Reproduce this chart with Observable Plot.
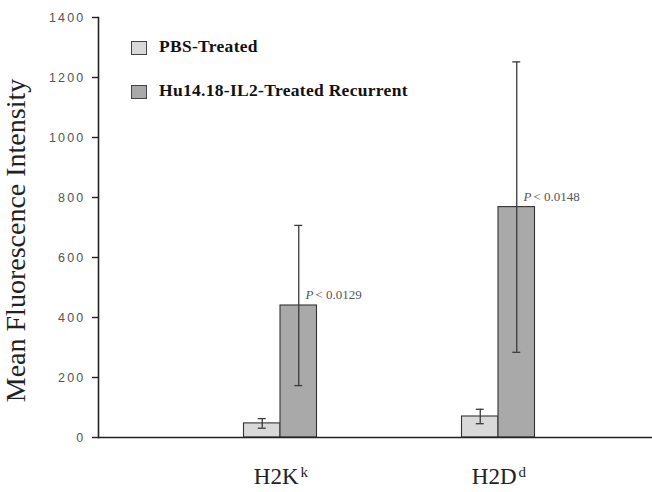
<!DOCTYPE html>
<html>
<head>
<meta charset="utf-8">
<script src="https://cdn.jsdelivr.net/npm/d3@7"></script>
<script src="https://cdn.jsdelivr.net/npm/@observablehq/plot@0.6"></script>
<style>
  html, body { margin: 0; padding: 0; background: #fff; }
  #wrap { position: relative; width: 652px; height: 492px; }
  #chart svg { display: block; }
  #chart [aria-label="y-axis tick label"] text { letter-spacing: 2.2px; }
  #legend { position: absolute; left: 131px; top: 40px; font-family: "Liberation Serif", "Times New Roman", serif; font-weight: bold; font-size: 17.5px; color: #111; }
  .row { position: relative; height: 44px; }
  .sw { position: absolute; left: 0; top: 1px; width: 14px; height: 12px; border: 1px solid #444; }
  .lab { position: absolute; left: 28px; top: -4px; white-space: nowrap; letter-spacing: 0.3px; }
</style>
</head>
<body>
<div id="wrap">
  <div id="chart"></div>
  <div id="legend"></div>
</div>
<script>
// ---- data ----
const categories = ["H2Kk", "H2Dd"];
const catMain = ["H2K", "H2D"];
const catSup = ["k", "d"];
const seriesNames = ["PBS-Treated", "Hu14.18-IL2-Treated Recurrent"];
const seriesColors = ["#d9d9d9", "#a9a9a9"];
const pbsMean = [47, 70];
const pbsErr = [16, 24];
const treatedMean = [440, 768];
const treatedErr = [267, 484];
const pLabels = ["< 0.0129", "< 0.0148"];
const yTicks = [0, 200, 400, 600, 800, 1000, 1200, 1400];

// ---- tables built from arrays ----
const pbs = categories.map((c, i) => ({cat: c, value: pbsMean[i], lo: pbsMean[i] - pbsErr[i], hi: pbsMean[i] + pbsErr[i]}));
const treated = categories.map((c, i) => ({cat: c, value: treatedMean[i], lo: treatedMean[i] - treatedErr[i], hi: treatedMean[i] + treatedErr[i], p: pLabels[i]}));
const labels = categories.map((c, i) => ({cat: c, main: catMain[i], sup: catSup[i]}));

const BW = 218;          // band width in px (range below)
const barW = 36.5;
const capW = 8;
const pbsIn = {insetLeft: BW / 2 - barW, insetRight: BW / 2};
const trIn = {insetLeft: BW / 2, insetRight: BW / 2 - barW};
const pbsCap = {insetLeft: BW / 2 - barW / 2 - capW / 2, insetRight: BW / 2 + barW / 2 - capW / 2};
const trCap = {insetLeft: BW / 2 + barW / 2 - capW / 2, insetRight: BW / 2 - barW / 2 - capW / 2};
const errStyle = {stroke: "#3a3a3a", strokeWidth: 1.3};
const serif = "Liberation Serif, Times New Roman, serif";

const chart = Plot.plot({
  width: 652,
  height: 492,
  marginTop: 17,
  marginBottom: 55,
  marginLeft: 98,
  marginRight: 0,
  style: {fontFamily: "Liberation Sans, Arial, sans-serif", background: "#fff"},
  x: {type: "band", domain: categories, range: [171, 171 + 2 * BW], padding: 0, axis: null},
  y: {domain: [0, 1400], axis: null},
  marks: [
    Plot.axisY({ticks: yTicks, tickSize: 6, tickPadding: 7, stroke: "#222", strokeWidth: 1.4, fill: "#555", fontSize: 12.5, label: null, tickFormat: d => String(d)}),
    Plot.frame({anchor: "left", stroke: "#222", strokeWidth: 1.6}),
    Plot.barY(pbs, {x: "cat", y: "value", fill: seriesColors[0], stroke: "#333", strokeWidth: 1.1, ...pbsIn}),
    Plot.barY(treated, {x: "cat", y: "value", fill: seriesColors[1], stroke: "#333", strokeWidth: 1.1, ...trIn}),
    Plot.ruleX(pbs, {x: "cat", y1: "lo", y2: "hi", dx: -barW / 2, ...errStyle}),
    Plot.tickY(pbs, {x: "cat", y: "lo", ...pbsCap, ...errStyle}),
    Plot.tickY(pbs, {x: "cat", y: "hi", ...pbsCap, ...errStyle}),
    Plot.ruleX(treated, {x: "cat", y1: "lo", y2: "hi", dx: barW / 2, ...errStyle}),
    Plot.tickY(treated, {x: "cat", y: "lo", ...trCap, ...errStyle}),
    Plot.tickY(treated, {x: "cat", y: "hi", ...trCap, ...errStyle}),
    Plot.text(treated, {x: "cat", y: "value", text: () => "P", dx: 25, dy: -10.5, textAnchor: "start", fontStyle: "italic", fontFamily: serif, fontSize: 13, fill: "#555"}),
    Plot.text(treated, {x: "cat", y: "value", text: "p", dx: 35, dy: -10.5, textAnchor: "start", fontFamily: serif, fontSize: 13, fill: "#555"}),
    Plot.ruleY([0], {stroke: "#222", strokeWidth: 1.6}),
    Plot.text(labels, {x: "cat", text: "main", frameAnchor: "bottom", dy: 46, dx: 18, textAnchor: "end", fontFamily: serif, fontSize: 23, fill: "#222"}),
    Plot.text(labels, {x: "cat", text: "sup", frameAnchor: "bottom", dy: 39, dx: 20, textAnchor: "start", fontFamily: serif, fontSize: 15, fill: "#222"}),
    Plot.text(["Mean Fluorescence Intensity"], {text: d => d, frameAnchor: "left", textAnchor: "middle", rotate: -90, dx: -82, dy: 13, fontFamily: serif, fontSize: 28, fill: "#222"})
  ]
});
document.getElementById("chart").appendChild(chart);

const legend = document.getElementById("legend");
seriesNames.forEach((name, i) => {
  const row = document.createElement("div");
  row.className = "row";
  const sw = document.createElement("div");
  sw.className = "sw";
  sw.style.background = seriesColors[i];
  const lab = document.createElement("div");
  lab.className = "lab";
  lab.textContent = name;
  row.appendChild(sw);
  row.appendChild(lab);
  legend.appendChild(row);
});
</script>
</body>
</html>
